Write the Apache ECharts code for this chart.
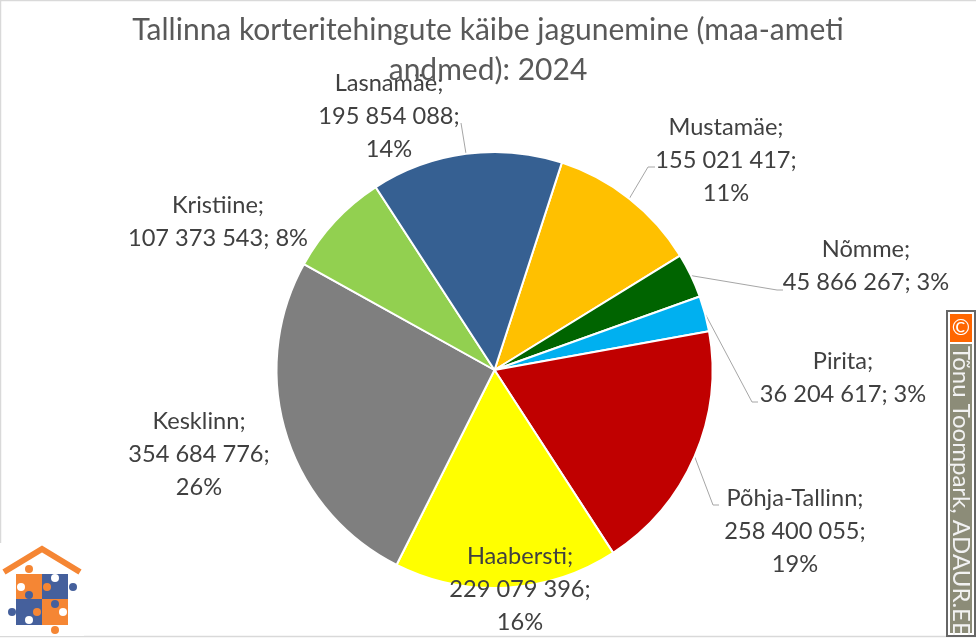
<!DOCTYPE html>
<html>
<head>
<meta charset="utf-8">
<title>Tallinna korteritehingute käive</title>
<style>
    html, body { margin: 0; padding: 0; background: #fff; }
    #chart { width: 976px; height: 638px; }
</style>
<script src="https://cdn.jsdelivr.net/npm/echarts@6/dist/echarts.min.js"></script>
</head>
<body>
<div id="chart"></div>
<script>
var titleText = 'Tallinna korteritehingute käibe jagunemine (maa-ameti\nandmed): 2024';
var districts = ['Mustamäe', 'Nõmme', 'Pirita', 'Põhja-Tallinn', 'Haabersti', 'Kesklinn', 'Kristiine', 'Lasnamäe'];
var turnover = [155021417, 45866267, 36204617, 258400055, 229079396, 354684776, 107373543, 195854088];
var shares = ['11%', '3%', '3%', '19%', '16%', '26%', '8%', '14%'];
var sliceColors = ['#ffc000', '#006400', '#00b0f0', '#c00000', '#ffff00', '#7f7f7f', '#92d050', '#366092'];
var creditText = 'Tõnu Toompark, ADAUR.EE';

// where each label sits in the picture (centre x, centre y)
var labelSpots = {
    'Mustamäe': [726, 160],
    'Nõmme': [866, 266],
    'Pirita': [843, 378],
    'Põhja-Tallinn': [795, 531],
    'Haabersti': [520, 589],
    'Kesklinn': [199, 454],
    'Kristiine': [218, 222],
    'Lasnamäe': [389, 116.5]
};
var oneLineShare = ['Nõmme', 'Pirita', 'Kristiine'];
// leader lines start on the slice, these are their two far points
var leaderEnds = {
    'Mustamäe': [[648, 167], [655, 167]],
    'Nõmme': [[777, 290], [783, 290]],
    'Pirita': [[752, 402], [758, 402]],
    'Põhja-Tallinn': [[713, 505], [719, 505]],
    'Lasnamäe': [[461, 123], [461, 123]]
};

var labelFont = 'Lato, "Open Sans", sans-serif';

function spacedNumber(n) {
    return String(n).replace(/\B(?=(\d{3})+$)/g, ' ');
}

function labelText(params) {
    var sep = oneLineShare.indexOf(params.name) !== -1 ? ' ' : '\n';
    return params.name + ';\n' + spacedNumber(params.value) + ';' + sep + shares[params.dataIndex];
}

function chartFrame() {
    return [{
        type: 'rect',
        z: -1,
        shape: {x: 0.5, y: 0.5, width: 990, height: 636},
        style: {fill: null, stroke: '#d9d9d9', lineWidth: 1.5}
    }];
}

function puzzleLogo() {
    var orange = '#f58634';
    var blue = '#45609c';
    var parts = [
        {type: 'rect', shape: {x: 0, y: 543, width: 84, height: 93}, style: {fill: '#fff'}},
        {type: 'polyline', shape: {points: [[4, 572], [42, 549], [80, 572]]}, style: {fill: null, stroke: orange, lineWidth: 6}},
        {type: 'rect', shape: {x: 16, y: 574, width: 26, height: 25}, style: {fill: orange}},
        {type: 'rect', shape: {x: 42, y: 574, width: 26, height: 25}, style: {fill: blue}},
        {type: 'rect', shape: {x: 16, y: 599, width: 26, height: 26}, style: {fill: blue}},
        {type: 'rect', shape: {x: 42, y: 599, width: 26, height: 26}, style: {fill: orange}}
    ];
    var knobs = [
        [29, 569, orange], [21, 587, '#fff'], [47, 587, orange], [55, 578, '#fff'],
        [73, 587, blue], [29, 595, blue], [12, 612, blue], [37, 612, orange],
        [29, 620, '#fff'], [55, 604, blue], [63, 612, '#fff'], [55, 630, orange]
    ];
    for (var i = 0; i < knobs.length; i++) {
        parts.push({
            type: 'circle',
            shape: {cx: knobs[i][0], cy: knobs[i][1], r: 4},
            style: {fill: knobs[i][2]}
        });
    }
    return parts;
}

function creditBadge() {
    return [
        {type: 'rect', shape: {x: 947, y: 311, width: 28, height: 325}, style: {fill: '#fff', stroke: '#666', lineWidth: 2}},
        {type: 'rect', shape: {x: 950, y: 314, width: 22, height: 28}, style: {fill: '#ff6600'}},
        {type: 'rect', shape: {x: 950, y: 344, width: 22, height: 289}, style: {fill: '#8c8c78'}},
        {
            type: 'text', x: 961, y: 328,
            style: {text: '©', fill: '#fff', font: '22px ' + labelFont, align: 'center', verticalAlign: 'middle'}
        },
        {
            type: 'text', x: 961, y: 346, rotation: -Math.PI / 2,
            style: {text: creditText, fill: '#f2f2f2', font: '24px ' + labelFont, align: 'left', verticalAlign: 'middle'}
        }
    ];
}

var chart = echarts.init(document.getElementById('chart'));
var option = {
    backgroundColor: '#fff',
    animation: false,
    title: {
        text: titleText,
        left: 'center',
        top: 5,
        textStyle: {
            color: '#595959',
            fontFamily: labelFont,
            fontWeight: 'normal',
            fontSize: 30,
            lineHeight: 40
        }
    },
    series: [{
        type: 'pie',
        center: [494.5, 370],
        radius: 218,
        startAngle: 72,
        clockwise: true,
        data: districts.map(function (name, i) {
            return {
                name: name,
                value: turnover[i],
                itemStyle: {color: sliceColors[i]},
                labelLine: {show: !!leaderEnds[name]}
            };
        }),
        itemStyle: {borderColor: '#fff', borderWidth: 2},
        label: {
            formatter: labelText,
            color: '#404040',
            fontFamily: labelFont,
            fontSize: 23.6,
            lineHeight: 33,
            align: 'center'
        },
        labelLine: {
            lineStyle: {color: '#a6a6a6', width: 1}
        },
        labelLayout: function (params) {
            var name = districts[params.dataIndex];
            var layout = {
                x: labelSpots[name][0],
                y: labelSpots[name][1],
                align: 'center',
                verticalAlign: 'middle'
            };
            if (leaderEnds[name] && params.labelLinePoints) {
                layout.labelLinePoints = [params.labelLinePoints[0], leaderEnds[name][0], leaderEnds[name][1]];
            }
            return layout;
        }
    }],
    graphic: chartFrame().concat(puzzleLogo(), creditBadge())
};
chart.setOption(option);
</script>
</body>
</html>
